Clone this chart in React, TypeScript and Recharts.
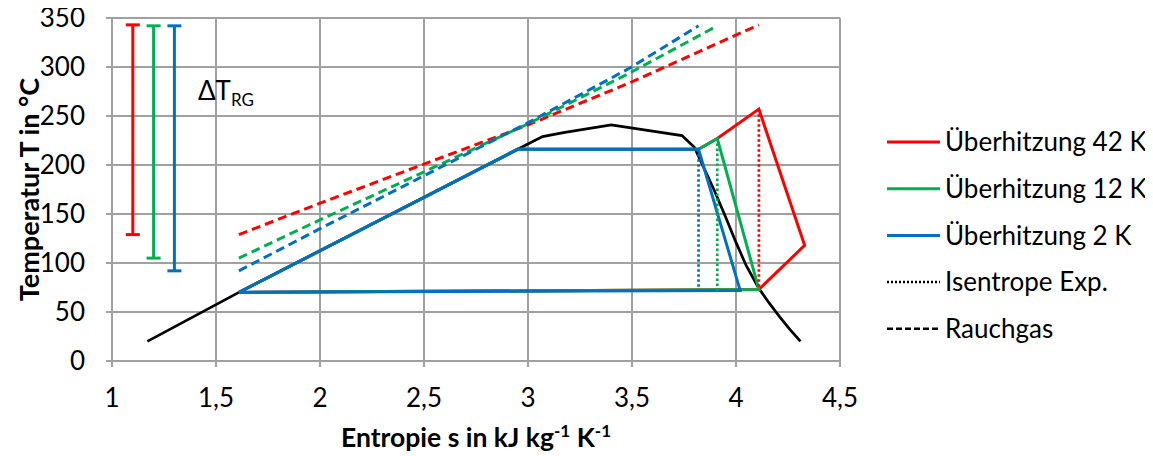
import React from 'react';
import { ComposedChart, Line, XAxis, YAxis, CartesianGrid, ReferenceDot, Label } from 'recharts';

// ---------- data ----------
const xTicks = [1, 1.5, 2, 2.5, 3, 3.5, 4, 4.5];
const yTicks = [0, 50, 100, 150, 200, 250, 300, 350];

// saturation curve (black)
const saturation = [
  { s: 1.17, T: 20 }, { s: 1.61, T: 70 }, { s: 2.95, T: 216 }, { s: 3.07, T: 229 },
  { s: 3.17, T: 233 }, { s: 3.40, T: 241 }, { s: 3.74, T: 230 }, { s: 3.80, T: 218 },
  { s: 3.85, T: 195 }, { s: 3.90, T: 172 }, { s: 3.95, T: 147 }, { s: 4.00, T: 121 },
  { s: 4.05, T: 97 }, { s: 4.11, T: 74 }, { s: 4.16, T: 59 }, { s: 4.21, T: 45 },
  { s: 4.26, T: 32 }, { s: 4.31, T: 20 },
];

// cycles
const cycle42 = [
  { s: 1.61, T: 70 }, { s: 2.95, T: 216 }, { s: 3.82, T: 216 }, { s: 3.91, T: 227 },
  { s: 4.11, T: 257 }, { s: 4.33, T: 118 }, { s: 4.11, T: 73 }, { s: 1.61, T: 70 },
];
const cycle12 = [
  { s: 1.61, T: 70 }, { s: 2.95, T: 216 }, { s: 3.82, T: 216 }, { s: 3.91, T: 227 },
  { s: 4.11, T: 73 }, { s: 1.61, T: 70 },
];
const cycle2 = [
  { s: 1.61, T: 70 }, { s: 2.95, T: 216 }, { s: 3.82, T: 216 }, { s: 4.02, T: 72 }, { s: 1.61, T: 70 },
];

// isentropic expansion
const iso42 = [{ s: 4.11, T: 257 }, { s: 4.11, T: 73 }];
const iso12 = [{ s: 3.91, T: 227 }, { s: 3.91, T: 72 }];
const iso2 = [{ s: 3.82, T: 216 }, { s: 3.82, T: 72 }];

// flue gas (Rauchgas)
const gas42 = [{ s: 1.61, T: 129 }, { s: 2.0, T: 161 }, { s: 2.99, T: 240 }, { s: 3.49, T: 284 }, { s: 4.11, T: 343 }];
const gas12 = [{ s: 1.61, T: 105 }, { s: 2.0, T: 144 }, { s: 2.99, T: 241 }, { s: 3.49, T: 294 }, { s: 3.91, T: 342 }];
const gas2 = [{ s: 1.61, T: 92 }, { s: 2.0, T: 135 }, { s: 2.99, T: 242 }, { s: 3.49, T: 299 }, { s: 3.82, T: 342 }];

// ΔT_RG bars positions (s) – span taken from the flue gas lines
const deltaBarS = [1.1, 1.2, 1.3];
const gasSeries = [gas42, gas12, gas2];

const legendLabels = ['Überhitzung 42 K', 'Überhitzung 12 K', 'Überhitzung 2 K', 'Isentrope Exp.', 'Rauchgas'];

// ---------- styles ----------
const RED = '#FF0000';
const GREEN = '#00B050';
const BLUE = '#0070C0';
const GRID = '#A0A0A0';
const FONT = 'Lato, "Open Sans", sans-serif';
const seriesColors = [RED, GREEN, BLUE];

const deltaBars = deltaBarS.map((s, i) => {
  const g = gasSeries[i];
  return [{ s, T: g[0].T }, { s, T: g[g.length - 1].T }];
});

const fmt = (v: number) => String(v).replace('.', ',');

const capDot = (color: string) => (p: any) => (
  <line key={`cap-${color}-${p.index}`} x1={p.cx - 7} x2={p.cx + 7} y1={p.cy} y2={p.cy} stroke={color} strokeWidth={3} />
);

const LegendBox = () => {
  const styles = [
    { stroke: RED, dash: undefined as string | undefined },
    { stroke: GREEN, dash: undefined },
    { stroke: BLUE, dash: undefined },
    { stroke: '#000', dash: '2 2' },
    { stroke: '#000', dash: '6 3' },
  ];
  return (
    <svg width={275} height={240} style={{ position: 'absolute', left: 878, top: 120 }}>
      {legendLabels.map((l, i) => {
        const y = 22 + i * 46.7;
        return (
          <g key={l}>
            <line x1={9} x2={62} y1={y} y2={y} stroke={styles[i].stroke} strokeWidth={i >= 3 ? 2.5 : 3} strokeDasharray={styles[i].dash} />
            <text x={67} y={y} dy="0.35em" fontSize={26} fontFamily={FONT} fill="#000">{l}</text>
          </g>
        );
      })}
    </svg>
  );
};

const YTitle = (props: any) => {
  const vb = props.viewBox || {};
  const cx = vb.x + 28;
  const cy = vb.y + vb.height / 2;
  return (
    <text x={cx} y={cy} transform={`rotate(-90, ${cx}, ${cy})`} textAnchor="middle" dominantBaseline="central"
      fontSize={27} fontWeight="bold" fontFamily={FONT} fill="#000">Temperatur T in °C</text>
  );
};

const XTitle = (props: any) => {
  const vb = props.viewBox || {};
  const cx = vb.x + vb.width / 2;
  const y = vb.y + 86;
  return (
    <text x={cx} y={y} textAnchor="middle" fontSize={26.5} fontWeight="bold" fontFamily={FONT} fill="#000">
      <tspan>Entropie s in kJ kg</tspan>
      <tspan fontSize={17} dy={-10}>-1</tspan>
      <tspan dy={10}> K</tspan>
      <tspan fontSize={17} dy={-10}>-1</tspan>
    </text>
  );
};

const DeltaLabel = (props: any) => {
  const vb = props.viewBox || {};
  return (
    <text x={vb.x} y={vb.y} fontFamily={FONT} fill="#000" fontSize={26}>
      <tspan>ΔT</tspan>
      <tspan fontSize={17} dy={6}>RG</tspan>
    </text>
  );
};

export default function App() {
  const common = { isAnimationActive: false, dot: false, activeDot: false, type: 'linear' as const, dataKey: 'T', legendType: 'none' as const };
  return (
    <div style={{ width: 1153, height: 456, position: 'relative', margin: '-8px 0 0 -8px' }}>
      <ComposedChart width={1153} height={456} margin={{ top: 18, right: 313, bottom: 0, left: 0 }}>
        <CartesianGrid stroke={GRID} strokeWidth={2} horizontalValues={yTicks} verticalValues={xTicks} />
        <XAxis
          dataKey="s" type="number" domain={[1, 4.5]} ticks={xTicks} allowDataOverflow
          tickFormatter={fmt} height={95} stroke={GRID} strokeWidth={2}
          tickSize={6} tickMargin={22}
          tick={{ fontSize: 26, fill: '#000', fontFamily: FONT }}
          tickLine={{ stroke: GRID, strokeWidth: 2 }}
        >
          <Label content={<XTitle />} />
        </XAxis>
        <YAxis
          type="number" domain={[0, 350]} ticks={yTicks} allowDataOverflow width={112}
          stroke={GRID} strokeWidth={2} tickSize={6} tickMargin={21}
          tick={{ fontSize: 26, fill: '#000', fontFamily: FONT }}
          tickLine={{ stroke: GRID, strokeWidth: 2 }}
        >
          <Label content={<YTitle />} />
        </YAxis>

        <Line {...common} data={saturation} stroke="#000" strokeWidth={2.75} name="sat" />

        {gasSeries.map((g, i) => (
          <Line key={`gas${i}`} {...common} data={g} stroke={seriesColors[i]} strokeWidth={3} strokeDasharray="9 5" name={`gas${i}`} />
        ))}

        {deltaBars.map((b, i) => (
          <Line key={`dT${i}`} {...common} data={b} stroke={seriesColors[i]} strokeWidth={3} dot={capDot(seriesColors[i])} name={`dT${i}`} />
        ))}

        <Line {...common} data={cycle42} stroke={RED} strokeWidth={3} name="c42" />
        <Line {...common} data={cycle12} stroke={GREEN} strokeWidth={3} name="c12" />
        <Line {...common} data={cycle2} stroke={BLUE} strokeWidth={3} name="c2" />

        <Line {...common} data={iso42} stroke={RED} strokeWidth={2.75} strokeDasharray="2.5 2.5" name="i42" />
        <Line {...common} data={iso12} stroke={GREEN} strokeWidth={2.75} strokeDasharray="2.5 2.5" name="i12" />
        <Line {...common} data={iso2} stroke={BLUE} strokeWidth={2.75} strokeDasharray="2.5 2.5" name="i2" />

        <ReferenceDot x={1.413} y={266.6} r={0} fill="none" stroke="none" label={<DeltaLabel />} />
      </ComposedChart>
      <LegendBox />
    </div>
  );
}
